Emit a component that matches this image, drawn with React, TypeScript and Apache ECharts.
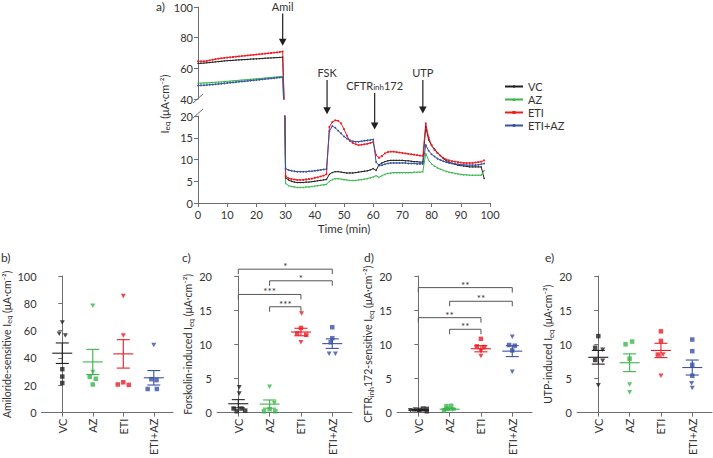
import React, { useEffect, useRef } from 'react';
import * as echarts from 'echarts';

const FONT = 'Lato';
const TEXT = '#333333';
const AXIS = '#6d6e71';

const groups = ['VC', 'AZ', 'ETI', 'ETI+AZ'];
const groupColors = ['#231f20', '#39b54a', '#ed1c24', '#3953a4'];
const traceSymbols = ['diamond', 'triangle', 'rect', 'circle'];

// ---------- panel a: Ussing chamber trace (1-min samples, 0..98 min) ----------
const timeMin = Array.from({ length: 99 }, (_, i) => i);

const traceVC = [
  63.2, 63.3, 63.4, 63.6, 63.8, 64.0, 64.2, 64.4, 64.6, 64.8, 65.0, 65.1, 65.2, 65.4, 65.5,
  65.6, 65.7, 65.8, 66.0, 66.1, 66.2, 66.3, 66.4, 66.6, 66.7, 66.8, 66.9, 67.0, 67.1, 67.3,
  5.8, 5.3, 5.0, 4.8, 4.7, 4.7, 4.7, 4.8, 4.8, 4.9,
  5.0, 5.1, 5.2, 5.3, 5.4, 6.6, 7.0, 7.2, 7.2, 7.1,
  7.0, 6.9, 6.9, 6.9, 7.0, 7.1, 7.2, 7.3, 7.4, 7.6,
  7.9, 7.5, 8.8, 9.2, 9.5, 9.7, 9.8, 9.8, 9.8, 9.8,
  9.8, 9.7, 9.7, 9.6, 9.5, 9.5, 9.4, 9.4, 17.5, 14.5,
  13.2, 12.4, 11.6, 10.9, 10.2, 9.8, 9.4, 9.1, 8.9, 8.7,
  8.6, 8.5, 8.4, 8.3, 8.3, 8.3, 8.3, 8.3, 5.6,
];
const traceAZ = [
  50.3, 50.4, 50.5, 50.6, 50.7, 50.8, 50.9, 51.1, 51.2, 51.4, 51.5, 51.7, 51.9, 52.0, 52.2,
  52.4, 52.5, 52.7, 52.9, 53.0, 53.2, 53.4, 53.5, 53.7, 53.9, 54.0, 54.2, 54.4, 54.6, 54.8,
  4.5, 4.0, 3.8, 3.7, 3.6, 3.6, 3.6, 3.7, 3.7, 3.8,
  3.9, 4.0, 4.1, 4.2, 4.3, 5.0, 5.4, 5.6, 5.6, 5.5,
  5.4, 5.3, 5.2, 5.2, 5.2, 5.3, 5.4, 5.5, 5.6, 5.8,
  6.0, 6.3, 5.9, 6.3, 6.6, 6.8, 6.9, 7.0, 7.0, 7.0,
  7.0, 7.0, 7.0, 7.0, 7.1, 7.1, 7.1, 7.2, 11.4, 9.8,
  9.0, 8.5, 8.1, 7.8, 7.5, 7.3, 7.1, 7.0, 6.8, 6.7,
  6.6, 6.5, 6.5, 6.4, 6.4, 6.4, 6.4, 6.4, 7.5,
];
const traceETI = [
  64.6, 64.6, 64.6, 64.8, 65.2, 65.6, 66.0, 66.3, 66.6, 66.8, 67.0, 67.2, 67.4, 67.6, 67.8,
  68.0, 68.2, 68.4, 68.6, 68.8, 69.0, 69.2, 69.4, 69.6, 69.8, 70.0, 70.2, 70.4, 70.6, 71.0,
  6.2, 5.7, 5.5, 5.4, 5.3, 5.3, 5.3, 5.4, 5.5, 5.6,
  5.8, 5.9, 6.1, 6.3, 6.6, 17.5, 18.6, 19.0, 18.9, 18.3,
  17.0, 15.5, 14.3, 13.8, 13.5, 13.3, 13.4, 13.5, 13.6, 13.8,
  14.0, 11.0, 10.4, 10.8, 11.4, 11.7, 11.8, 11.8, 11.7, 11.6,
  11.5, 11.4, 11.3, 11.2, 11.1, 11.0, 10.9, 10.8, 18.3, 15.0,
  13.3, 12.2, 11.5, 10.9, 10.4, 10.0, 9.8, 9.6, 9.5, 9.4,
  9.3, 9.2, 9.2, 9.2, 9.2, 9.3, 9.4, 9.5, 9.8,
];
const traceETIAZ = [
  48.8, 48.9, 49.0, 49.1, 49.3, 49.4, 49.6, 49.8, 50.0, 50.2, 50.4, 50.6, 50.8, 51.0, 51.2,
  51.4, 51.6, 51.8, 52.0, 52.2, 52.4, 52.6, 52.8, 53.0, 53.2, 53.4, 53.6, 53.8, 54.0, 54.2,
  7.9, 7.6, 7.4, 7.3, 7.2, 7.2, 7.2, 7.2, 7.3, 7.3,
  7.4, 7.5, 7.6, 7.7, 7.8, 16.5, 17.7, 17.3, 16.6, 16.0,
  15.3, 14.8, 14.4, 14.2, 14.1, 14.1, 14.2, 14.3, 14.4, 14.5,
  14.6, 9.4, 8.6, 8.7, 8.9, 9.1, 9.2, 9.2, 9.2, 9.2,
  9.2, 9.2, 9.1, 9.1, 9.1, 9.0, 9.0, 9.0, 13.3, 12.0,
  11.2, 10.7, 10.2, 9.9, 9.6, 9.4, 9.2, 9.1, 9.0, 8.9,
  8.8, 8.8, 8.7, 8.7, 8.7, 8.7, 8.8, 8.9, 9.1,
];
const traces = [traceVC, traceAZ, traceETI, traceETIAZ];

// additions (arrows)
const eventTimes = [29, 44.2, 60.5, 77];
const eventLabels = ['Amil', 'FSK', 'CFTR{s|inh}172', 'UTP'];
const eventArrowTop = [95.8, 28.3, 25.3, 28.3];
const eventArrowTip = [74.7, 20.4, 16.9, 20.6];
const eventSegment = [0, 1, 1, 1];

// ---------- panels b-e ----------
const amilorideVals = [
  [65.9, 57.7, 56.5, 31.8, 26.4, 21.7],
  [78.3, 29.7, 26.2, 24.8, 20.6],
  [85.3, 56.5, 22.2, 20.6, 20.3],
  [49.5, 24.5, 23.8, 17.3, 17.3],
];
const amilorideShapes = [
  ['t', 't', 't', 's', 's', 's'],
  ['t', 't', 's', 's', 's'],
  ['t', 't', 's', 's', 's'],
  ['t', 's', 's', 's', 's'],
];
const amilorideJitter = [
  [0, -0.1, 0.1, 0, 0, 0],
  [0, 0, -0.1, 0.1, 0],
  [0, 0, 0, -0.18, 0.18],
  [0, -0.08, 0.09, -0.2, 0.1],
];
const amilorideMean = [43.5, 37.1, 43.0, 25.5];
const amilorideSem = [7.5, 9.2, 10.4, 5.3];

const forskolinVals = [
  [3.7, 2.8, 0.6, 0.6, 0.3, 0.2],
  [3.8, 1.4, 0.5, 0.2, 0.2],
  [14.5, 12.4, 11.6, 11.4, 10.3],
  [12.5, 10.9, 10.3, 8.6, 8.6],
];
const forskolinShapes = [
  ['t', 't', 's', 's', 's', 's'],
  ['t', 't', 's', 's', 's'],
  ['t', 's', 's', 's', 't'],
  ['s', 's', 's', 't', 't'],
];
const forskolinJitter = [
  [0.03, 0.03, -0.15, 0.1, 0.22, -0.05],
  [0, 0.15, 0, -0.18, 0.18],
  [0.02, 0, -0.12, 0.17, 0],
  [0, 0, -0.05, -0.1, 0.1],
];
const forskolinMean = [1.3, 1.25, 11.8, 10.1];
const forskolinSem = [0.6, 0.6, 0.55, 0.7];
const forskolinPairs = [[0, 3], [1, 3], [0, 2], [1, 2]];
const forskolinStars = ['*', '*', '***', '***'];
const forskolinBracketY = [21.0, 19.3, 17.3, 15.5];

const cftrVals = [
  [0.35, 0.45, 0.4, 0.6, 0.2, 0.55],
  [0.95, 1.0, 0.55, 0.45, 0.35],
  [10.8, 9.7, 9.6, 9.0, 8.3],
  [11.1, 9.9, 9.8, 9.1, 6.0],
];
const cftrShapes = [
  ['t', 't', 's', 's', 's', 's'],
  ['s', 's', 's', 't', 's'],
  ['s', 's', 's', 't', 't'],
  ['t', 's', 's', 's', 't'],
];
const cftrJitter = [
  [-0.25, -0.1, 0.03, 0.15, 0.27, 0.27],
  [-0.1, 0.05, -0.08, 0.1, -0.18],
  [0, -0.13, 0.1, 0, 0],
  [0, -0.1, 0.08, 0, 0],
];
const cftrMean = [0.35, 0.5, 9.35, 9.0];
const cftrSem = [0.1, 0.12, 0.45, 0.8];
const cftrPairs = [[0, 3], [1, 3], [0, 2], [1, 2]];
const cftrStars = ['**', '**', '**', '**'];
const cftrBracketY = [18.3, 16.3, 13.9, 12.2];

const utpVals = [
  [11.2, 9.5, 9.2, 7.7, 7.6, 4.0],
  [10.0, 10.4, 7.9, 4.1, 3.0],
  [11.9, 10.5, 8.5, 8.5, 5.4],
  [10.7, 9.0, 7.0, 5.4, 4.3, 3.6],
];
const utpShapes = [
  ['s', 's', 't', 's', 't', 't'],
  ['s', 's', 's', 't', 't'],
  ['s', 's', 's', 't', 't'],
  ['s', 's', 's', 's', 't', 't'],
];
const utpJitter = [
  [0, -0.1, 0.14, -0.1, 0.14, 0],
  [-0.13, 0.08, 0, 0, 0],
  [0, 0, -0.1, 0.07, 0],
  [0, 0, 0, 0, -0.02, 0],
];
const utpMean = [8.1, 7.3, 9.1, 6.6];
const utpSem = [1.0, 1.3, 1.05, 1.1];

// ---------- helpers ----------
const richOpt = {
  n: { fontSize: 10.5, lineHeight: 14, fontFamily: FONT, color: TEXT },
  s: { fontSize: 7.5, lineHeight: 8, verticalAlign: 'bottom', fontFamily: FONT, color: TEXT },
};
const richZr = {
  n: { fontSize: 11, lineHeight: 14, fontFamily: FONT, fill: TEXT },
  s: { fontSize: 8, lineHeight: 8, verticalAlign: 'bottom', fontFamily: FONT, fill: TEXT },
};

const labelStyle = { fontSize: 11, fontFamily: FONT, color: TEXT };

function dotXAxis(gridIndex: number) {
  return {
    type: 'value', gridIndex, min: -0.68, max: 3.63,
    axisLine: { show: true, lineStyle: { color: AXIS, width: 1 } },
    axisTick: { show: true, customValues: [0, 1, 2, 3], length: 4, lineStyle: { color: AXIS } },
    axisLabel: {
      show: true, customValues: [0, 1, 2, 3], rotate: 90, margin: 6, ...labelStyle,
      formatter: (v: number) => groups[Math.round(v)] ?? '',
    },
    splitLine: { show: false },
  };
}

function dotYAxis(gridIndex: number, max: number, interval: number, name: string, nameGap: number) {
  return {
    type: 'value', gridIndex, min: 0, max, interval,
    name, nameLocation: 'middle', nameGap,
    nameTextStyle: { fontSize: 10.5, fontFamily: FONT, color: TEXT, rich: richOpt },
    axisLine: { show: true, lineStyle: { color: AXIS, width: 1 } },
    axisTick: { show: true, length: 4, lineStyle: { color: AXIS } },
    axisLabel: { margin: 5, ...labelStyle },
    splitLine: { show: false },
  };
}

function dotSeries(axisIndex: number, vals: number[][], shapes: string[][], jitter: number[][]) {
  return vals.map((arr, gi) => ({
    type: 'scatter', name: `p${axisIndex}-${groups[gi]}`,
    xAxisIndex: axisIndex, yAxisIndex: axisIndex,
    itemStyle: { color: groupColors[gi] },
    z: 3,
    data: arr.map((v, j) => {
      const tri = shapes[gi][j] === 't';
      return {
        value: [gi + jitter[gi][j], v],
        symbol: tri ? 'triangle' : 'rect',
        symbolRotate: tri ? 180 : 0,
        symbolSize: tri ? [5, 4.5] : 4.5,
      };
    }),
  }));
}

function meanSeries(axisIndex: number, mean: number[], sem: number[]) {
  return {
    type: 'custom', name: `m${axisIndex}`,
    xAxisIndex: axisIndex, yAxisIndex: axisIndex, z: 4,
    data: mean.map((m, gi) => [gi, m, sem[gi]]),
    renderItem: (params: any, api: any) => {
      const gi = api.value(0);
      const m = api.value(1);
      const s = api.value(2);
      const c = api.coord([gi, m]);
      const up = api.coord([gi, m + s]);
      const lo = api.coord([gi, m - s]);
      const style = { stroke: groupColors[params.dataIndex], lineWidth: 1.1 };
      return {
        type: 'group',
        children: [
          { type: 'line', shape: { x1: c[0] - 10, y1: c[1], x2: c[0] + 10, y2: c[1] }, style },
          { type: 'line', shape: { x1: c[0], y1: up[1], x2: c[0], y2: lo[1] }, style },
          { type: 'line', shape: { x1: c[0] - 6.5, y1: up[1], x2: c[0] + 6.5, y2: up[1] }, style },
          { type: 'line', shape: { x1: c[0] - 6.5, y1: lo[1], x2: c[0] + 6.5, y2: lo[1] }, style },
        ],
      };
    },
  };
}

function bracketSeries(axisIndex: number, pairs: number[][], stars: string[], ys: number[]) {
  return {
    type: 'custom', name: `s${axisIndex}`,
    xAxisIndex: axisIndex, yAxisIndex: axisIndex, z: 4,
    data: pairs.map((p, i) => [p[0], p[1], ys[i], i]),
    renderItem: (_params: any, api: any) => {
      const a = api.coord([api.value(0), api.value(2)]);
      const b = api.coord([api.value(1), api.value(2)]);
      const label = stars[api.value(3)];
      return {
        type: 'group',
        children: [
          {
            type: 'polyline',
            shape: { points: [[a[0], a[1] + 5], [a[0], a[1]], [b[0], b[1]], [b[0], b[1] + 5]] },
            style: { stroke: '#555555', lineWidth: 1, fill: null },
          },
          {
            type: 'text', x: (a[0] + b[0]) / 2, y: a[1] - 3,
            style: { text: label, align: 'center', verticalAlign: 'middle', fontSize: 10, fontFamily: FONT, fill: TEXT },
          },
        ],
      };
    },
  };
}

function arrowSeries(segment: number) {
  const data: number[][] = [];
  eventTimes.forEach((t, i) => {
    if (eventSegment[i] === segment) data.push([t, eventArrowTop[i], eventArrowTip[i], i]);
  });
  return {
    type: 'custom', name: `arrows${segment}`,
    xAxisIndex: segment, yAxisIndex: segment, z: 5,
    data,
    renderItem: (_params: any, api: any) => {
      const s = api.coord([api.value(0), api.value(1)]);
      const e = api.coord([api.value(0), api.value(2)]);
      const label = eventLabels[api.value(3)];
      return {
        type: 'group',
        children: [
          { type: 'line', shape: { x1: s[0], y1: s[1], x2: e[0], y2: e[1] - 5 }, style: { stroke: '#231f20', lineWidth: 1.2 } },
          { type: 'polygon', shape: { points: [[e[0], e[1]], [e[0] - 3.8, e[1] - 7], [e[0] + 3.8, e[1] - 7]] }, style: { fill: '#231f20' } },
          {
            type: 'text', x: s[0], y: s[1] - 7,
            style: {
              text: label, align: 'center', verticalAlign: 'middle',
              fontSize: 11, fontFamily: FONT, fill: TEXT, rich: richZr,
            },
          },
        ],
      };
    },
  };
}

function buildOption() {
  const traceSeries: any[] = [];
  [0, 1].forEach((k) => {
    traces.forEach((vals, gi) => {
      traceSeries.push({
        type: 'line', name: groups[gi],
        xAxisIndex: k, yAxisIndex: k,
        data: timeMin.map((t, i) => [t, vals[i]]),
        symbol: traceSymbols[gi], symbolSize: 1.8, showSymbol: true, showAllSymbol: true,
        lineStyle: { color: groupColors[gi], width: 1 },
        itemStyle: { color: groupColors[gi] },
        clip: true, z: 2,
      });
    });
  });

  const dotGrids = [38, 217, 397, 577].map((left) => ({ left, top: 276, width: 135, height: 142 }));

  return {
    animation: false,
    backgroundColor: '#ffffff',
    textStyle: { fontFamily: FONT },
    grid: [
      { left: 198, top: 7, width: 292, height: 92 },
      { left: 198, top: 116, width: 292, height: 87 },
      ...dotGrids,
    ],
    legend: {
      data: groups.map((g, gi) => ({ name: g, itemStyle: { color: groupColors[gi] } })),
      orient: 'vertical', left: 499, top: 76,
      itemGap: 2, itemWidth: 18, itemHeight: 4,
      textStyle: { fontSize: 11, fontFamily: FONT, color: TEXT },
    },
    xAxis: [
      { type: 'value', gridIndex: 0, min: 0, max: 100, interval: 10, show: false },
      {
        type: 'value', gridIndex: 1, min: 0, max: 100, interval: 10,
        name: 'Time (min)', nameLocation: 'middle', nameGap: 19,
        nameTextStyle: { fontSize: 11.5, fontFamily: FONT, color: TEXT },
        axisLine: { lineStyle: { color: AXIS } },
        axisTick: { length: 4, lineStyle: { color: AXIS } },
        axisLabel: { margin: 6, ...labelStyle },
        splitLine: { show: false },
      },
      dotXAxis(2), dotXAxis(3), dotXAxis(4), dotXAxis(5),
    ],
    yAxis: [
      {
        type: 'value', gridIndex: 0, min: 40, max: 100, interval: 20,
        axisLine: { show: true, lineStyle: { color: AXIS } },
        axisTick: { show: true, length: 4, lineStyle: { color: AXIS } },
        axisLabel: { margin: 5, ...labelStyle },
        splitLine: { show: false },
      },
      {
        type: 'value', gridIndex: 1, min: 0, max: 20, interval: 5,
        axisLine: { show: true, lineStyle: { color: AXIS } },
        axisTick: { show: true, length: 4, lineStyle: { color: AXIS } },
        axisLabel: { margin: 5, ...labelStyle },
        splitLine: { show: false },
      },
      dotYAxis(2, 100, 20, '{n|Amiloride-sensitive I}{s|eq}{n| (μA·cm⁻²)}', 19),
      dotYAxis(3, 20, 5, '{n|Forskolin-induced I}{s|eq}{n| (μA·cm⁻²)}', 22),
      dotYAxis(4, 20, 5, '{n|CFTR}{s|inh}{n|172-sensitive I}{s|eq}{n| (μA·cm⁻²)}', 22),
      dotYAxis(5, 20, 5, '{n|UTP-induced I}{s|eq}{n| (μA·cm⁻²)}', 22),
    ],
    graphic: [
      { type: 'text', left: 156, top: 0, style: { text: 'a)', fontSize: 12, fontFamily: FONT, fill: TEXT } },
      { type: 'text', left: 1, top: 251, style: { text: 'b)', fontSize: 12, fontFamily: FONT, fill: TEXT } },
      { type: 'text', left: 182, top: 251, style: { text: 'c)', fontSize: 12, fontFamily: FONT, fill: TEXT } },
      { type: 'text', left: 364, top: 251, style: { text: 'd)', fontSize: 12, fontFamily: FONT, fill: TEXT } },
      { type: 'text', left: 545, top: 251, style: { text: 'e)', fontSize: 12, fontFamily: FONT, fill: TEXT } },
      {
        type: 'text', x: 164, y: 104, rotation: Math.PI / 2,
        style: {
          text: '{n|I}{s|eq}{n| (μA·cm⁻²)}', align: 'center', verticalAlign: 'middle',
          fontSize: 11, fontFamily: FONT, fill: TEXT, rich: richZr,
        },
      },
      { type: 'line', shape: { x1: 193, y1: 103, x2: 203, y2: 94 }, style: { stroke: AXIS, lineWidth: 1 } },
      { type: 'line', shape: { x1: 193, y1: 118, x2: 203, y2: 109 }, style: { stroke: AXIS, lineWidth: 1 } },
    ],
    series: [
      ...traceSeries,
      arrowSeries(0),
      arrowSeries(1),
      ...dotSeries(2, amilorideVals, amilorideShapes, amilorideJitter),
      meanSeries(2, amilorideMean, amilorideSem),
      ...dotSeries(3, forskolinVals, forskolinShapes, forskolinJitter),
      meanSeries(3, forskolinMean, forskolinSem),
      bracketSeries(3, forskolinPairs, forskolinStars, forskolinBracketY),
      ...dotSeries(4, cftrVals, cftrShapes, cftrJitter),
      meanSeries(4, cftrMean, cftrSem),
      bracketSeries(4, cftrPairs, cftrStars, cftrBracketY),
      ...dotSeries(5, utpVals, utpShapes, utpJitter),
      meanSeries(5, utpMean, utpSem),
    ],
  };
}

export default function App() {
  const ref = useRef<HTMLDivElement>(null);
  useEffect(() => {
    if (!ref.current) return;
    const chart = echarts.init(ref.current, null, { renderer: 'svg' });
    chart.setOption(buildOption() as any);
    return () => chart.dispose();
  }, []);
  return (
    <div
      ref={ref}
      style={{ position: 'fixed', left: 0, top: 0, width: 713, height: 458, background: '#ffffff' }}
    />
  );
}
